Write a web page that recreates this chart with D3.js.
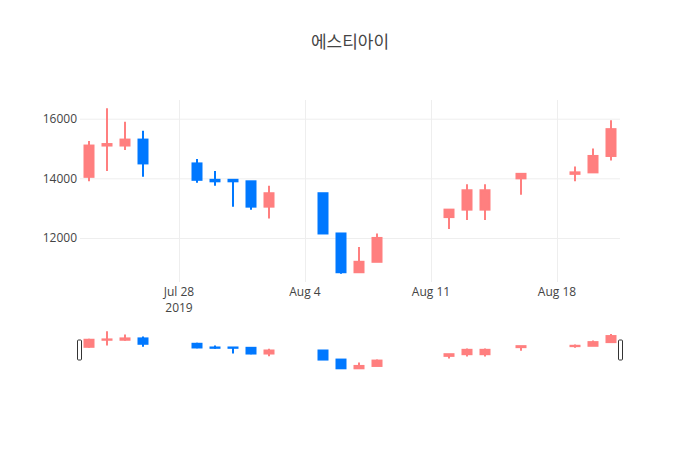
<!DOCTYPE html>
<html>
<head>
<meta charset="utf-8">
<script src="https://cdn.jsdelivr.net/npm/d3@7"></script>
<style>
  html, body { margin: 0; padding: 0; background: #fff; }
  svg text { font-family: "Open Sans", verdana, arial, "Noto Sans CJK KR", sans-serif; }
</style>
</head>
<body>
<svg id="chart" width="700" height="450"></svg>
<script>
const title = "에스티아이";
const dates = ["2019-07-23","2019-07-24","2019-07-25","2019-07-26","2019-07-29","2019-07-30","2019-07-31","2019-08-01","2019-08-02","2019-08-05","2019-08-06","2019-08-07","2019-08-08","2019-08-12","2019-08-13","2019-08-14","2019-08-16","2019-08-19","2019-08-20","2019-08-21"];
const openPrices  = [14050,15100,15100,15300,14500,13950,13950,13900,13050,13500,12150,10850,11200,12700,12950,12950,14000,14150,14200,14750];
const highPrices  = [15250,16350,15900,15600,14650,14250,13950,13900,13750,13500,12150,11700,12150,12950,13800,13800,14150,14400,15000,15950];
const lowPrices   = [13900,14250,14950,14050,13850,13750,13050,12950,12650,12150,10800,10850,11200,12300,12600,12600,13450,13900,14200,14600];
const closePrices = [15100,15150,15300,14500,13950,13900,13900,13050,13500,12150,10850,11200,12000,12950,13600,13600,14150,14200,14750,15650];
const xTickDates = ["2019-07-28","2019-08-04","2019-08-11","2019-08-18"];
const xTickLabels = [["Jul 28","2019"],["Aug 4"],["Aug 11"],["Aug 18"]];
const yTicks = [12000,14000,16000];

const incColor = "#ff7f7f";
const decColor = "#0078ff";

const parse = s => { const [y,m,d] = s.split("-").map(Number); return new Date(y, m-1, d); };
const data = dates.map((d,i) => ({date: parse(d), o: openPrices[i], h: highPrices[i], l: lowPrices[i], c: closePrices[i]}));

const svg = d3.select("#chart");
const W = 700, H = 450;
const pLeft = 80, pRight = 620, pTop = 100, pBottom = 282;
const sTop = 329.5, sBottom = 370.5;

const halfDay = 12*3600*1000;
const first = data[0].date, last = data[data.length-1].date;
const x = d3.scaleTime()
  .domain([new Date(+first - halfDay), new Date(+last + halfDay)])
  .range([pLeft, pRight]);

const yMin = d3.min(lowPrices), yMax = d3.max(highPrices);
const pad = (yMax - yMin) * 0.05;
const y = d3.scaleLinear().domain([yMin - pad, yMax + pad]).range([pBottom, pTop]);
const ys = d3.scaleLinear().domain(y.domain()).range([sBottom, sTop]);

// title
svg.append("text")
  .attr("x", W/2).attr("y", 48)
  .attr("text-anchor", "middle")
  .style("font-size", "17px").style("fill", "#444")
  .text(title);

// grid lines
const gx = svg.append("g").attr("transform", `translate(0,${pBottom})`)
  .call(d3.axisBottom(x).tickValues(xTickDates.map(parse)).tickSize(-(pBottom-pTop)).tickFormat(""));
gx.select(".domain").remove();
gx.selectAll("line").attr("stroke", "#eee").attr("stroke-width", 1);

const gy = svg.append("g").attr("transform", `translate(${pLeft},0)`)
  .call(d3.axisLeft(y).tickValues(yTicks).tickSize(-(pRight-pLeft)).tickFormat(d3.format("d")).tickPadding(3));
gy.select(".domain").remove();
gy.selectAll("line").attr("stroke", "#eee").attr("stroke-width", 1);
gy.selectAll("text").style("font-size", "12px").attr("fill", "#444");

// x tick labels
const xl = svg.append("g");
xTickDates.forEach((d, i) => {
  const t = xl.append("text")
    .attr("x", x(parse(d))).attr("y", 296)
    .attr("text-anchor", "middle")
    .style("font-size", "12px").style("fill", "#444");
  xTickLabels[i].forEach((line, j) => {
    t.append("tspan").attr("x", x(parse(d))).attr("dy", j === 0 ? 0 : 15.5).text(line);
  });
});

function drawCandles(g, yScale) {
  const bw = x(new Date(+first + halfDay/2)) - x(first);
  const c = g.selectAll("g.candle").data(data).enter().append("g").attr("class","candle");
  const col = d => d.c >= d.o ? incColor : decColor;
  c.append("line")
    .attr("x1", d => x(d.date)).attr("x2", d => x(d.date))
    .attr("y1", d => yScale(d.h)).attr("y2", d => yScale(d.l))
    .attr("stroke", col).attr("stroke-width", 2);
  c.append("rect")
    .attr("x", d => x(d.date) - bw).attr("width", 2*bw)
    .attr("y", d => yScale(Math.max(d.o, d.c)))
    .attr("height", d => Math.abs(yScale(d.o) - yScale(d.c)))
    .attr("fill", col).attr("stroke", col).attr("stroke-width", 2);
}

drawCandles(svg.append("g"), y);

// range slider
const slider = svg.append("g");
slider.append("rect").attr("x", pLeft).attr("y", sTop).attr("width", pRight-pLeft).attr("height", sBottom - sTop)
  .attr("fill", "#fff");
drawCandles(slider.append("g"), ys);
const hy = (sTop + sBottom)/2 - 10;
[pLeft - 2.5, pRight - 1.5].forEach(hx => {
  slider.append("rect").attr("x", hx).attr("y", hy).attr("width", 4).attr("height", 20)
    .attr("rx", 1).attr("fill", "#fff").attr("stroke", "#333").attr("stroke-width", 1);
});
</script>
</body>
</html>
